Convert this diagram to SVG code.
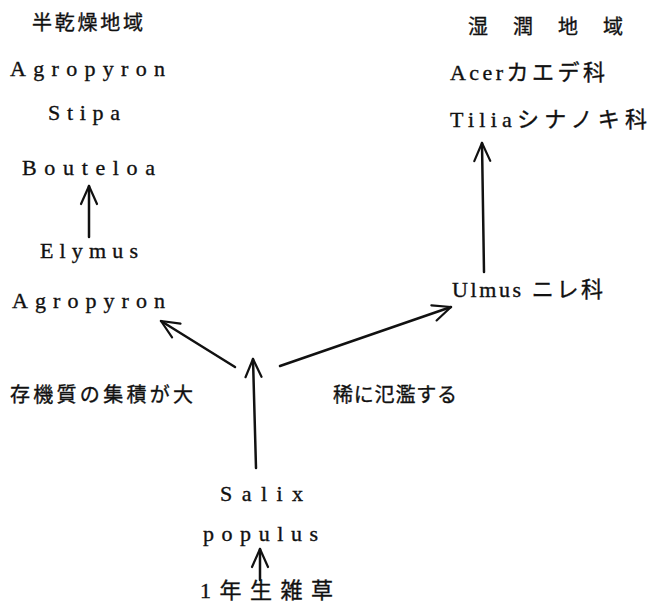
<svg xmlns="http://www.w3.org/2000/svg" width="652" height="609" viewBox="0 0 652 609">
<style>
  text { font-family: "Liberation Serif", "Noto Sans CJK JP", serif; font-size: 22px; fill: #111; stroke: #111; stroke-width: 0.35; }
  .jp { font-family: "Noto Sans CJK JP", sans-serif; font-size: 20px; }
  .arrow { stroke: #111; stroke-width: 2.5; fill: none; stroke-linecap: round; marker-end: url(#head); }
</style>
<defs>
  <marker id="head" markerUnits="userSpaceOnUse" markerWidth="24" markerHeight="24" viewBox="-20 -12 24 24" refX="0" refY="0" orient="auto">
    <path d="M-18,-8 L0,0 L-18,8" fill="none" stroke="#111" stroke-width="2.2" stroke-linecap="round" stroke-linejoin="round"/>
  </marker>
</defs>
<rect width="652" height="609" fill="#fff"/>
<g id="header-dry"><text class="jp" x="32" y="30" textLength="111" lengthAdjust="spacing">半乾燥地域</text></g>
<g id="header-wet"><text class="jp" x="468" y="34" textLength="155" lengthAdjust="spacing">湿潤地域</text></g>
<g id="agropyron-top"><text x="10" y="76" textLength="155" lengthAdjust="spacing">Agropyron</text></g>
<g id="stipa"><text x="48" y="120" textLength="72" lengthAdjust="spacing">Stipa</text></g>
<g id="bouteloa"><text x="22" y="175" textLength="133" lengthAdjust="spacing">Bouteloa</text></g>
<g id="elymus"><text x="40" y="258" textLength="98" lengthAdjust="spacing">Elymus</text></g>
<g id="agropyron"><text x="12" y="308" textLength="153" lengthAdjust="spacing">Agropyron</text></g>
<g id="label-left"><text class="jp" x="10" y="402" textLength="183" lengthAdjust="spacing">存機質の集積が大</text></g>
<g id="label-right"><text class="jp" x="333" y="402" textLength="124" lengthAdjust="spacing">稀に氾濫する</text></g>
<g id="acer"><text x="450" y="80" textLength="155" lengthAdjust="spacing">Acerカエデ科</text></g>
<g id="tilia"><text x="450" y="127" textLength="197" lengthAdjust="spacing">Tiliaシナノキ科</text></g>
<g id="ulmus"><text x="452" y="297" textLength="151" lengthAdjust="spacing">Ulmus ニレ科</text></g>
<g id="salix"><text x="220" y="501" textLength="83" lengthAdjust="spacing">Salix</text></g>
<g id="populus"><text x="203" y="541" textLength="115" lengthAdjust="spacing">populus</text></g>
<g id="annual-weeds"><text x="200" y="598" textLength="133" lengthAdjust="spacing">1年生雑草</text></g>
<g id="connectors">
  <line class="arrow" x1="89" y1="237" x2="89" y2="186"/>
  <line class="arrow" x1="484" y1="272" x2="482" y2="143"/>
  <line class="arrow" x1="235" y1="367" x2="161" y2="321"/>
  <line class="arrow" x1="280" y1="366" x2="451" y2="307"/>
  <line class="arrow" x1="256" y1="468" x2="253" y2="359"/>
  <line class="arrow" x1="260" y1="580" x2="260" y2="549"/>
</g>
</svg>
